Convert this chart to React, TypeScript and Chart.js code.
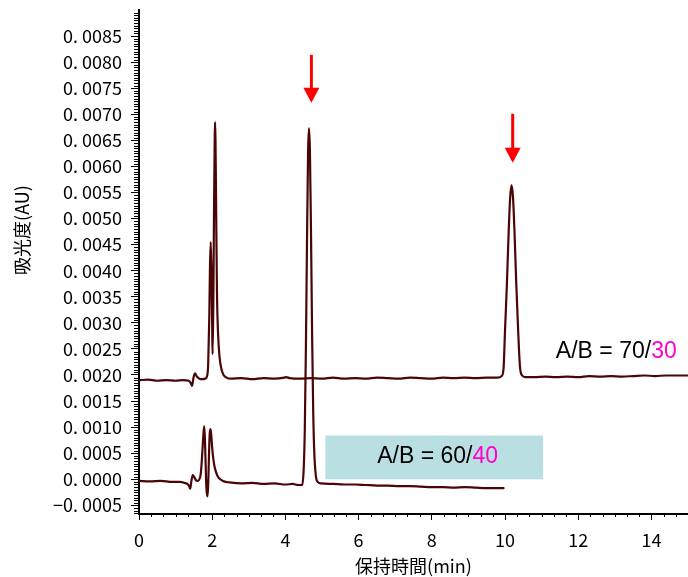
import React, { useEffect, useRef } from 'react';
import { Chart, registerables } from 'chart.js';

Chart.register(...registerables);

// ---- data ----
const trace7030X = [0, 0.25, 0.5, 0.75, 1.0, 1.2, 1.36, 1.41, 1.45, 1.49, 1.53, 1.58, 1.65, 1.73, 1.81, 1.86, 1.89, 1.92, 1.94, 1.96, 1.98, 2.0, 2.01, 2.03, 2.05, 2.07, 2.08, 2.09, 2.11, 2.13, 2.16, 2.2, 2.25, 2.31, 2.39, 2.5, 2.8, 3.1, 3.4, 3.7, 3.97, 4.02, 4.12, 4.4, 4.7, 5.0, 5.3, 5.6, 5.9, 6.2, 6.5, 6.8, 7.1, 7.4, 7.7, 8.0, 8.3, 8.6, 8.9, 9.2, 9.5, 9.8, 9.91, 9.96, 10.0, 10.05, 10.1, 10.14, 10.18, 10.22, 10.26, 10.31, 10.36, 10.41, 10.47, 10.55, 10.8, 11.1, 11.4, 11.7, 12.0, 12.3, 12.6, 12.9, 13.2, 13.5, 13.8, 14.1, 14.4, 14.7, 15.0];
const trace7030Y = [0.0019, 0.00191, 0.00189, 0.0019, 0.00189, 0.0019, 0.00189, 0.00185, 0.00179, 0.00195, 0.00203, 0.00197, 0.00193, 0.00192, 0.00193, 0.00198, 0.0022, 0.0031, 0.0041, 0.00455, 0.004, 0.0029, 0.0024, 0.0033, 0.0052, 0.0066, 0.00685, 0.0065, 0.005, 0.0036, 0.0028, 0.00235, 0.00212, 0.002, 0.00195, 0.00193, 0.00194, 0.00192, 0.00194, 0.00193, 0.00195, 0.00196, 0.00194, 0.00193, 0.00194, 0.00193, 0.00195, 0.00193, 0.00194, 0.00193, 0.00195, 0.00194, 0.00193, 0.00195, 0.00194, 0.00193, 0.00195, 0.00194, 0.00195, 0.00194, 0.00195, 0.00195, 0.00198, 0.00212, 0.00284, 0.00371, 0.00474, 0.00539, 0.00564, 0.00539, 0.00474, 0.00371, 0.00284, 0.00215, 0.00199, 0.00196, 0.00196, 0.00197, 0.00196, 0.00197, 0.00196, 0.00198, 0.00197, 0.00198, 0.00197, 0.00198, 0.00199, 0.00198, 0.00199, 0.00199, 0.00199];

const trace6040X = [0, 0.3, 0.6, 0.9, 1.1, 1.25, 1.34, 1.38, 1.4, 1.43, 1.47, 1.51, 1.56, 1.61, 1.66, 1.69, 1.72, 1.75, 1.78, 1.8, 1.82, 1.84, 1.87, 1.89, 1.91, 1.93, 1.95, 1.97, 2.0, 2.04, 2.09, 2.15, 2.22, 2.32, 2.47, 2.8, 3.1, 3.4, 3.7, 4.0, 4.2, 4.35, 4.46, 4.5, 4.53, 4.56, 4.59, 4.62, 4.645, 4.67, 4.7, 4.73, 4.76, 4.79, 4.83, 4.88, 4.97, 5.3, 5.6, 5.9, 6.2, 6.5, 6.8, 7.1, 7.4, 7.7, 8.0, 8.3, 8.6, 8.9, 9.2, 9.5, 9.75, 9.96];
const trace6040Y = [-0.00003, -0.00004, -0.00003, -0.00005, -0.00005, -0.00007, -0.0001, -0.00015, -0.00018, -0.00004, 0.00008, 0.00004, -0.00002, -0.00003, 0.00002, 0.00012, 0.0004, 0.00075, 0.00102, 0.0008, 0.0003, -0.00015, -0.00033, -0.00012, 0.0004, 0.00085, 0.00096, 0.00088, 0.0006, 0.00034, 0.00017, 0.00006, 0.0, -0.00004, -0.00006, -0.00008, -0.00007, -0.00009, -0.00008, -0.0001, -0.00009, -0.00011, -0.00011, 0.0002, 0.00095, 0.0025, 0.00455, 0.0063, 0.00673, 0.0063, 0.0047, 0.00275, 0.0013, 0.0005, 0.00008, -0.00005, -0.00008, -0.00009, -0.0001, -0.0001, -0.00011, -0.00012, -0.00012, -0.00013, -0.00013, -0.00014, -0.00015, -0.00015, -0.00016, -0.00015, -0.00016, -0.00017, -0.00017, -0.00017];

const xTickValues = [0, 2, 4, 6, 8, 10, 12, 14];
const xTickLabels = ['0', '2', '4', '6', '8', '10', '12', '14'];
const yTickValues = [-0.0005, 0, 0.0005, 0.001, 0.0015, 0.002, 0.0025, 0.003, 0.0035, 0.004, 0.0045, 0.005, 0.0055, 0.006, 0.0065, 0.007, 0.0075, 0.008, 0.0085];
const yTickLabels = ['\u22120. 0005', '0. 0000', '0. 0005', '0. 0010', '0. 0015', '0. 0020', '0. 0025', '0. 0030', '0. 0035', '0. 0040', '0. 0045', '0. 0050', '0. 0055', '0. 0060', '0. 0065', '0. 0070', '0. 0075', '0. 0080', '0. 0085'];

const xAxisTitle = '保持時間(min)';
const yAxisTitle = '吸光度(AU)';

const arrowX = [4.71, 10.21];
const arrowTop = [0.00814, 0.00701];
const arrowTip = [0.00722, 0.00607];

const boxX = [5.09, 11.04];
const boxY = [0.0, 0.00084];

const label7030 = ['A/B = 70/', '30'];
const label7030Pos = [11.39, 0.00245];
const label6040 = ['A/B = 60/', '40'];
const label6040Pos = [8.16, 0.00043];

const LINE_COLOR = '#4a0606';
const CJK = '"Noto Sans CJK JP", "Noto Sans", sans-serif';
const LATIN = '"Liberation Sans", Arial, sans-serif';

const annotPlugin = {
  id: 'annot',
  beforeDatasetsDraw(chart: any) {
    const { ctx, scales } = chart;
    const x = scales.x, y = scales.y;
    ctx.save();
    ctx.fillStyle = '#badfe2';
    const x0 = x.getPixelForValue(boxX[0]);
    const x1 = x.getPixelForValue(boxX[1]);
    const y0 = y.getPixelForValue(boxY[1]);
    const y1 = y.getPixelForValue(boxY[0]);
    ctx.fillRect(x0, y0, x1 - x0, y1 - y0);
    ctx.restore();
  },
  afterDraw(chart: any) {
    const { ctx, scales, chartArea } = chart;
    const x = scales.x, y = scales.y;
    ctx.save();
    // arrows
    for (let i = 0; i < arrowX.length; i++) {
      const px = x.getPixelForValue(arrowX[i]);
      const top = y.getPixelForValue(arrowTop[i]);
      const tip = y.getPixelForValue(arrowTip[i]);
      const headLen = 15;
      ctx.strokeStyle = '#ff0000';
      ctx.fillStyle = '#ff0000';
      ctx.lineWidth = 3;
      ctx.beginPath();
      ctx.moveTo(px, top);
      ctx.lineTo(px, tip - headLen + 1);
      ctx.stroke();
      ctx.beginPath();
      ctx.moveTo(px - 8, tip - headLen);
      ctx.lineTo(px + 8, tip - headLen);
      ctx.lineTo(px, tip);
      ctx.closePath();
      ctx.fill();
    }
    // labels
    ctx.font = '23px ' + LATIN;
    ctx.textBaseline = 'middle';
    ctx.textAlign = 'left';
    {
      const lx = x.getPixelForValue(label7030Pos[0]);
      const ly = y.getPixelForValue(label7030Pos[1]);
      ctx.fillStyle = '#000';
      ctx.fillText(label7030[0], lx, ly);
      const w = ctx.measureText(label7030[0]).width;
      ctx.fillStyle = '#ff00cc';
      ctx.fillText(label7030[1], lx + w, ly);
    }
    {
      const w0 = ctx.measureText(label6040[0]).width;
      const w1 = ctx.measureText(label6040[1]).width;
      const cx = x.getPixelForValue(label6040Pos[0]);
      const ly = y.getPixelForValue(label6040Pos[1]);
      const lx = cx - (w0 + w1) / 2;
      ctx.fillStyle = '#000';
      ctx.fillText(label6040[0], lx, ly);
      ctx.fillStyle = '#ff00cc';
      ctx.fillText(label6040[1], lx + w0, ly);
    }
    // minor ticks
    ctx.strokeStyle = '#000';
    ctx.lineWidth = 1;
    ctx.beginPath();
    for (let i = -13; i <= 180; i++) {
      if (i % 10 === 0) continue;
      const v = i * 0.00005;
      if (v < y.min || v > y.max) continue;
      const py = Math.round(y.getPixelForValue(v)) + 0.5;
      ctx.moveTo(chartArea.left - 5, py);
      ctx.lineTo(chartArea.left, py);
    }
    for (let i = 1; i <= 45; i++) {
      if (i % 6 === 0) continue;
      const v = i / 3;
      if (v > x.max) continue;
      const px = Math.round(x.getPixelForValue(v)) + 0.5;
      ctx.moveTo(px, chartArea.bottom);
      ctx.lineTo(px, chartArea.bottom + 3);
    }
    ctx.stroke();
    // y title
    ctx.fillStyle = '#000';
    ctx.font = '18px ' + CJK;
    ctx.textAlign = 'center';
    ctx.textBaseline = 'middle';
    ctx.translate(22, 230);
    ctx.rotate(-Math.PI / 2);
    ctx.fillText(yAxisTitle, 0, 0);
    ctx.restore();
  },
};

export default function App() {
  const ref = useRef<HTMLCanvasElement | null>(null);
  useEffect(() => {
    if (!ref.current) return;
    const lineStyle = {
      borderColor: LINE_COLOR,
      borderWidth: 2.2,
      pointRadius: 0,
      cubicInterpolationMode: 'monotone',
      borderJoinStyle: 'round',
      borderCapStyle: 'round',
      fill: false,
    };
    const chart = new Chart(ref.current, {
      type: 'line',
      data: {
        datasets: [
          {
            label: 'A/B = 70/30',
            data: trace7030X.map((v, i) => ({ x: v, y: trace7030Y[i] })),
            ...lineStyle,
          },
          {
            label: 'A/B = 60/40',
            data: trace6040X.map((v, i) => ({ x: v, y: trace6040Y[i] })),
            ...lineStyle,
          },
        ],
      },
      options: {
        animation: false,
        responsive: false,
        devicePixelRatio: 1,
        layout: { padding: { top: 10, right: 0, bottom: 0, left: 0 } },
        plugins: { legend: { display: false }, tooltip: { enabled: false } },
        scales: {
          x: {
            type: 'linear',
            min: 0,
            max: 15,
            afterBuildTicks: (s: any) => {
              s.ticks = xTickValues.map((v) => ({ value: v }));
            },
            afterFit: (s: any) => {
              s.height = 63;
              s.paddingLeft = 0;
              s.paddingRight = 0;
            },
            grid: { drawOnChartArea: false, drawTicks: true, tickLength: 6, tickColor: '#000', tickWidth: 1 },
            border: { display: true, color: '#000', width: 2 },
            ticks: {
              color: '#000',
              font: { family: CJK, size: 18 },
              padding: 9,
              maxRotation: 0,
              autoSkip: false,
              callback: (_v: any, i: number) => xTickLabels[i],
            },
            title: {
              display: true,
              text: xAxisTitle,
              color: '#000',
              font: { family: CJK, size: 18 },
              padding: { top: 0, bottom: 0 },
            },
          },
          y: {
            type: 'linear',
            min: -0.000666,
            max: 0.009,
            afterBuildTicks: (s: any) => {
              s.ticks = yTickValues.map((v) => ({ value: v }));
            },
            afterFit: (s: any) => {
              s.width = 139;
              s.paddingTop = 0;
              s.paddingBottom = 0;
            },
            grid: { drawOnChartArea: false, drawTicks: true, tickLength: 8, tickColor: '#000', tickWidth: 1 },
            border: { display: true, color: '#000', width: 2 },
            ticks: {
              color: '#000',
              font: { family: CJK, size: 18 },
              padding: 9,
              autoSkip: false,
              callback: (_v: any, i: number) => yTickLabels[i],
            },
            title: { display: false },
          },
        },
      },
      plugins: [annotPlugin],
    } as any);
    return () => chart.destroy();
  }, []);
  return (
    <div style={{ position: 'absolute', left: 0, top: 0, width: 688, height: 577, background: '#fff' }}>
      <canvas ref={ref} width={688} height={577} style={{ width: 688, height: 577, display: 'block' }} />
    </div>
  );
}
